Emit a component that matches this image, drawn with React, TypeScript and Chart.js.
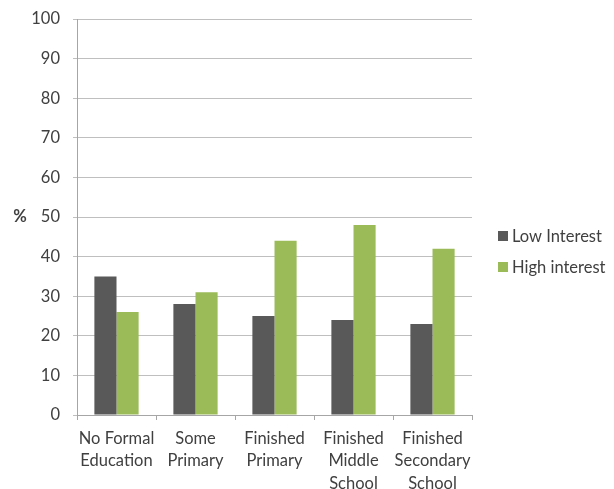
import React, { useEffect, useRef } from "react";
import { Chart, registerables } from "chart.js";

Chart.register(...registerables);

const categories: string[][] = [
  ["No Formal", "Education"],
  ["Some", "Primary"],
  ["Finished", "Primary"],
  ["Finished", "Middle", "School"],
  ["Finished", "Secondary", "School"],
];
const lowInterest = [35, 28, 25, 24, 23];
const highInterest = [26, 31, 44, 48, 42];
const seriesNames = ["Low Interest", "High interest"];
const seriesColors = ["#595959", "#9BBB59"];
const yTicks = [0, 10, 20, 30, 40, 50, 60, 70, 80, 90, 100];

const FONT = "Lato, 'Open Sans', sans-serif";
const TEXT = "#404040";
const SIZE = 16.5;

// Draws the "%" axis caption and the right-hand legend.
const extras = {
  id: "extras",
  afterDraw(chart: Chart) {
    const { ctx, chartArea } = chart;
    ctx.save();
    ctx.fillStyle = TEXT;
    ctx.font = `bold ${SIZE}px ${FONT}`;
    ctx.textAlign = "center";
    ctx.textBaseline = "middle";
    ctx.fillText("%", 20, (chartArea.top + chartArea.bottom) / 2);

    ctx.font = `${SIZE}px ${FONT}`;
    ctx.textAlign = "left";
    const lx = 498;
    const rows = [236, 267];
    seriesNames.forEach((name, i) => {
      ctx.fillStyle = seriesColors[i];
      ctx.fillRect(lx, rows[i] - 5, 10, 10);
      ctx.fillStyle = TEXT;
      ctx.fillText(name, lx + 14, rows[i] + 1);
    });
    ctx.restore();
  },
};

export default function App() {
  const ref = useRef<HTMLCanvasElement | null>(null);

  useEffect(() => {
    if (!ref.current) return;
    const chart = new Chart(ref.current, {
      type: "bar",
      data: {
        labels: categories,
        datasets: [
          {
            label: seriesNames[0],
            data: lowInterest,
            backgroundColor: seriesColors[0],
            categoryPercentage: 0.56,
            barPercentage: 1,
          },
          {
            label: seriesNames[1],
            data: highInterest,
            backgroundColor: seriesColors[1],
            categoryPercentage: 0.56,
            barPercentage: 1,
          },
        ],
      },
      options: {
        animation: false,
        responsive: false,
        maintainAspectRatio: false,
        layout: { padding: { left: 0, right: 142, top: 19, bottom: 0 } },
        plugins: {
          legend: { display: false },
          tooltip: { enabled: false },
        },
        scales: {
          x: {
            offset: true,
            grid: {
              offset: true,
              drawOnChartArea: false,
              drawTicks: true,
              tickLength: 5,
              color: "#a6a6a6",
            },
            border: { color: "#a6a6a6", width: 1 },
            ticks: {
              color: TEXT,
              font: { family: FONT, size: SIZE, lineHeight: 1.34 },
              padding: 8,
              maxRotation: 0,
              autoSkip: false,
            },
            afterFit(scale: any) {
              scale.height = 74;
              scale.paddingLeft = 0;
              scale.paddingRight = 0;
            },
          },
          y: {
            min: 0,
            max: 100,
            afterBuildTicks(scale: any) {
              scale.ticks = yTicks.map((v) => ({ value: v }));
            },
            grid: {
              color: "#bfbfbf",
              tickLength: 4,
              drawTicks: true,
            },
            border: { color: "#a6a6a6", width: 1 },
            ticks: {
              color: TEXT,
              font: { family: FONT, size: SIZE },
              padding: 13,
            },
            afterFit(scale: any) {
              scale.width = 77;
              scale.paddingTop = 0;
              scale.paddingBottom = 0;
            },
          },
        },
      },
      plugins: [extras],
    });
    return () => chart.destroy();
  }, []);

  return (
    <div style={{ position: "fixed", left: 0, top: 0, width: 614, height: 489, background: "#fff" }}>
      <canvas ref={ref} width={614} height={489} />
    </div>
  );
}
